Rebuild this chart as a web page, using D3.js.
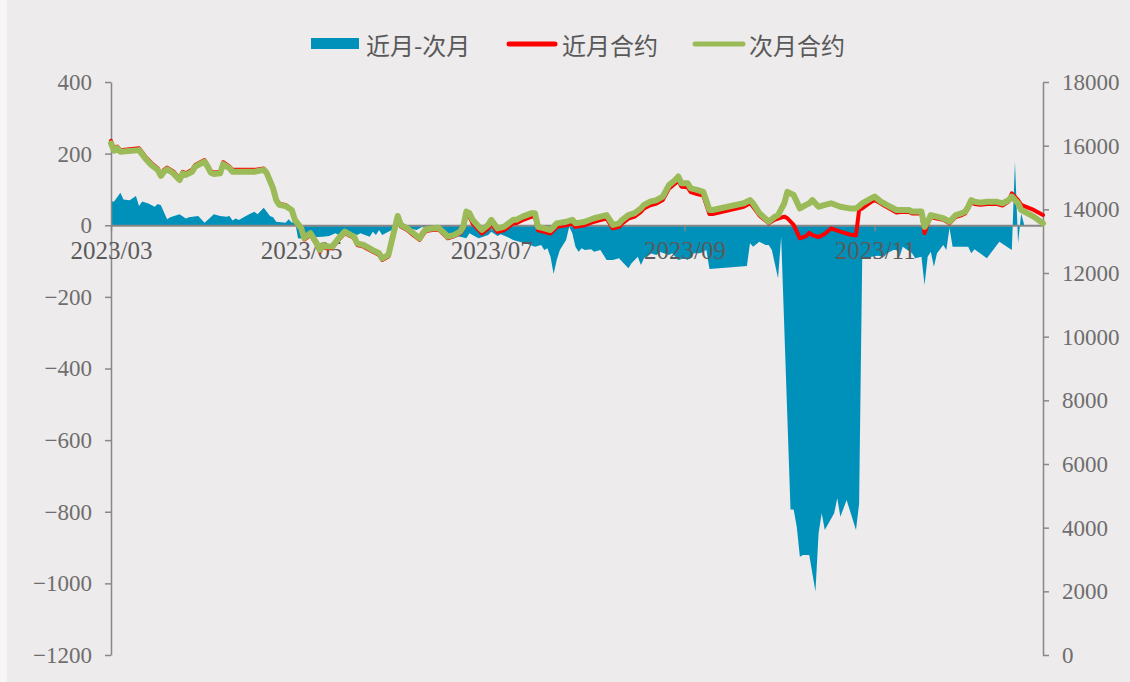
<!DOCTYPE html>
<html>
<head>
<meta charset="utf-8">
<script src="https://cdn.jsdelivr.net/npm/d3@7"></script>
<style>
  html, body { margin: 0; padding: 0; background: #f6f6f6; }
  svg { display: block; }
</style>
</head>
<body>
<svg id="chart" width="1130" height="682"></svg>
<script>
// ---- price series: 近月合约 / 次月合约 (right axis) ----
const lineDates = [
  "2023-03-01","2023-03-02","2023-03-03","2023-03-04","2023-03-10","2023-03-12","2023-03-14","2023-03-16","2023-03-17","2023-03-18","2023-03-19","2023-03-21","2023-03-23","2023-03-24","2023-03-25","2023-03-27","2023-03-28","2023-03-31",
  "2023-04-01","2023-04-02","2023-04-03","2023-04-05","2023-04-06","2023-04-08","2023-04-09","2023-04-12","2023-04-16","2023-04-19","2023-04-20","2023-04-22","2023-04-23","2023-04-24","2023-04-26","2023-04-28","2023-04-29",
  "2023-05-01","2023-05-02","2023-05-04","2023-05-06","2023-05-07","2023-05-08","2023-05-09","2023-05-11","2023-05-13","2023-05-15","2023-05-17","2023-05-18","2023-05-19","2023-05-21","2023-05-22","2023-05-24","2023-05-26","2023-05-27","2023-05-29","2023-05-30",
  "2023-06-01","2023-06-02","2023-06-04","2023-06-06","2023-06-08","2023-06-09","2023-06-10","2023-06-12","2023-06-14","2023-06-16","2023-06-17","2023-06-19","2023-06-21","2023-06-22","2023-06-23","2023-06-24","2023-06-25","2023-06-27","2023-06-28","2023-06-30",
  "2023-07-01","2023-07-03","2023-07-05","2023-07-08","2023-07-09","2023-07-11","2023-07-14","2023-07-15","2023-07-16","2023-07-18","2023-07-20","2023-07-21","2023-07-22","2023-07-25","2023-07-27","2023-07-28","2023-07-31",
  "2023-08-03","2023-08-05","2023-08-07","2023-08-08","2023-08-09","2023-08-11","2023-08-12","2023-08-14","2023-08-16","2023-08-18","2023-08-19","2023-08-21","2023-08-23","2023-08-25","2023-08-27","2023-08-29","2023-08-30","2023-08-31",
  "2023-09-02","2023-09-03","2023-09-05","2023-09-07","2023-09-09","2023-09-10","2023-09-20","2023-09-22","2023-09-23","2023-09-25","2023-09-28","2023-09-30",
  "2023-10-01","2023-10-03","2023-10-04","2023-10-06","2023-10-08","2023-10-10","2023-10-11","2023-10-12","2023-10-14","2023-10-16","2023-10-18","2023-10-21","2023-10-24","2023-10-26","2023-10-27","2023-10-28","2023-10-31",
  "2023-11-01","2023-11-03","2023-11-04","2023-11-06","2023-11-08","2023-11-10","2023-11-12","2023-11-13","2023-11-16","2023-11-17","2023-11-18","2023-11-19","2023-11-21","2023-11-23","2023-11-24","2023-11-25","2023-11-27","2023-11-29","2023-11-30",
  "2023-12-01","2023-12-02","2023-12-03","2023-12-05","2023-12-07","2023-12-10","2023-12-12","2023-12-14","2023-12-15","2023-12-17","2023-12-18","2023-12-22","2023-12-25"
];

const nearPrice = [
  16150,15910,15970,15860,15920,15660,15450,15290,15090,15240,15310,15190,14970,15180,15130,15240,15390,15550,
  15390,15200,15160,15170,15480,15340,15240,15240,15240,15280,15170,14700,14320,14170,14140,13980,13630,
  13370,13050,13200,12880,12660,12830,12780,12780,13040,13250,13150,13090,12880,12830,12770,12670,12570,12410,12520,12940,
  13760,13460,13350,13190,13040,13190,13320,13350,13370,13190,13090,13150,13240,13380,13840,13770,13560,13350,13240,13400,
  13560,13290,13340,13560,13560,13660,13770,13770,13340,13290,13240,13340,13450,13500,13560,13450,13500,
  13610,13660,13710,13560,13400,13450,13560,13710,13770,13920,14030,14130,14180,14290,14650,14810,14920,14710,
  14690,14540,14480,14430,13850,13850,14080,14190,14080,13810,13560,13680,
  13710,13770,13720,13510,13090,13160,13260,13190,13130,13230,13400,13300,13210,13180,13980,14030,14240,
  14290,14180,14120,14010,13900,13920,13920,13870,13870,13250,13540,13760,13710,13670,13620,13560,13760,13820,13870,
  14030,14220,14170,14140,14170,14170,14120,14250,14500,14290,14140,13980,13820
];

const nextPrice = [
  16070,15840,15920,15810,15860,15600,15390,15240,15050,15180,15260,15130,14920,15130,15080,15180,15340,15500,
  15340,15150,15110,15130,15420,15290,15180,15180,15180,15240,15130,14660,14290,14140,14100,13980,13670,
  13410,13100,13250,12930,12720,12880,12830,12830,13090,13300,13190,13140,12930,12880,12830,12720,12620,12460,12570,12980,
  13790,13510,13400,13250,13090,13250,13370,13400,13420,13250,13140,13190,13300,13450,13930,13880,13670,13450,13350,13510,
  13670,13400,13450,13670,13670,13770,13880,13880,13450,13400,13350,13450,13560,13610,13670,13560,13610,
  13720,13770,13820,13670,13510,13560,13670,13820,13880,14030,14140,14240,14290,14400,14760,14920,15030,14820,
  14820,14660,14610,14550,13980,13980,14190,14290,14190,13880,13610,13770,
  13820,14190,14550,14450,14030,14140,14190,14290,14080,14140,14190,14080,14030,14030,14100,14190,14350,
  14400,14240,14190,14080,13980,13980,13980,13930,13930,13450,13610,13820,13770,13720,13670,13610,13820,13880,13930,
  14080,14290,14240,14210,14240,14240,14190,14290,14400,14190,13980,13770,13560
];

// ---- spread series: 近月-次月 (left axis) ----
const spreadDates = [
  "2023-03-01","2023-03-02","2023-03-04","2023-03-05","2023-03-07","2023-03-09","2023-03-10","2023-03-11","2023-03-13","2023-03-15","2023-03-16","2023-03-17","2023-03-19","2023-03-20","2023-03-23","2023-03-25","2023-03-26","2023-03-29","2023-03-31",
  "2023-04-01","2023-04-03","2023-04-05","2023-04-07","2023-04-08","2023-04-09","2023-04-10","2023-04-11","2023-04-14","2023-04-16","2023-04-17","2023-04-19","2023-04-21","2023-04-22","2023-04-23","2023-04-26","2023-04-27","2023-04-28","2023-04-29","2023-04-30",
  "2023-05-02","2023-05-04","2023-05-06","2023-05-08","2023-05-10","2023-05-12","2023-05-13","2023-05-15","2023-05-17","2023-05-19","2023-05-20","2023-05-23","2023-05-24","2023-05-25","2023-05-26","2023-05-27","2023-05-29",
  "2023-06-01","2023-06-03","2023-06-05","2023-06-07","2023-06-09","2023-06-10","2023-06-12","2023-06-15","2023-06-17","2023-06-19","2023-06-21","2023-06-23","2023-06-24","2023-06-26","2023-06-27","2023-06-30",
  "2023-07-01","2023-07-03","2023-07-04","2023-07-06","2023-07-08","2023-07-10","2023-07-12","2023-07-15","2023-07-17","2023-07-18","2023-07-19","2023-07-20","2023-07-21","2023-07-22","2023-07-23","2023-07-25","2023-07-26","2023-07-27","2023-07-28","2023-07-29","2023-07-30","2023-07-31",
  "2023-08-02","2023-08-03","2023-08-05","2023-08-07","2023-08-09","2023-08-11","2023-08-12","2023-08-14","2023-08-15","2023-08-17","2023-08-18","2023-08-19","2023-08-21","2023-08-23","2023-08-24","2023-08-27","2023-08-28","2023-08-30",
  "2023-09-01","2023-09-02","2023-09-04","2023-09-06","2023-09-08","2023-09-09","2023-09-21","2023-09-22","2023-09-23","2023-09-25","2023-09-27","2023-09-28","2023-09-29",
  "2023-10-01","2023-10-02","2023-10-05","2023-10-06","2023-10-07","2023-10-08","2023-10-09","2023-10-10","2023-10-11","2023-10-13","2023-10-14","2023-10-15","2023-10-16","2023-10-19","2023-10-20","2023-10-21","2023-10-23","2023-10-26","2023-10-27","2023-10-28","2023-10-31",
  "2023-11-02","2023-11-04","2023-11-05","2023-11-07","2023-11-08","2023-11-09","2023-11-10","2023-11-13","2023-11-14","2023-11-16","2023-11-17","2023-11-18","2023-11-19","2023-11-20","2023-11-21","2023-11-23","2023-11-24","2023-11-25","2023-11-26",
  "2023-12-01","2023-12-02","2023-12-03","2023-12-07","2023-12-11","2023-12-15","2023-12-16","2023-12-17","2023-12-18","2023-12-19"
];

const spreadValues = [
  66,66,91,72,70,82,54,66,61,52,59,56,17,22,31,19,22,26,7,
  15,31,26,24,26,13,19,15,29,38,31,49,26,22,10,7,17,7,12,-36,
  -38,-30,-33,-32,-30,-22,-27,-18,-22,-27,-22,-32,-18,-27,-13,-27,-18,
  -4,-9,-9,-13,-4,-13,-18,-13,-22,-27,-32,-36,-22,-32,-36,-27,
  -18,-30,-25,-32,-41,-46,-50,-60,-55,-69,-64,-88,-136,-97,-69,-41,-4,-22,-60,-74,-64,-69,
  -67,-74,-69,-97,-97,-92,-102,-120,-106,-88,-111,-92,-78,-83,-74,-83,-78,-97,
  -92,-97,-78,-78,-69,-122,-114,-50,-60,-46,-55,-55,-69,
  -148,-32,-794,-794,-842,-926,-921,-921,-921,-1023,-860,-804,-851,-804,-762,-814,-767,-851,-778,-92,-88,
  -85,-88,-78,-69,-69,-88,-60,-78,-92,-88,-167,-88,-74,-116,-78,-55,-69,-8,-60,
  -60,-78,-67,-92,-46,-69,177,-50,33,0
];

// ---- axes and legend labels ----
const leftTicks = [400, 200, 0, -200, -400, -600, -800, -1000, -1200];
const rightTicks = [0, 2000, 4000, 6000, 8000, 10000, 12000, 14000, 16000, 18000];
const seriesNames = ["近月-次月", "近月合约", "次月合约"];
const xDomain = ["2023-03-01", "2023-12-25"];

const colors = { spread: "#0091ba", near: "#ff0000", next: "#9bbb59" };
const axisColor = "#888888";

const parse = d3.timeParse("%Y-%m-%d");
const plot = { left: 111, right: 1043, top: 82, bottom: 655 };

const svg = d3.select("#chart");

// panel background
svg.append("rect")
  .attr("x", 7).attr("y", 0).attr("width", 1123).attr("height", 682)
  .attr("fill", "#edebec");

const x = d3.scaleTime()
  .domain(xDomain.map(parse))
  .range([plot.left, plot.right]);
const yL = d3.scaleLinear().domain([-1200, 400]).range([plot.bottom, plot.top]);
const yR = d3.scaleLinear().domain([0, 18000]).range([plot.bottom, plot.top]);

const spread = spreadDates.map((d, i) => ({ date: parse(d), v: spreadValues[i] }));
const near = lineDates.map((d, i) => ({ date: parse(d), v: nearPrice[i] }));
const next = lineDates.map((d, i) => ({ date: parse(d), v: nextPrice[i] }));

// spread area against the zero line
svg.append("path")
  .datum(spread)
  .attr("fill", colors.spread)
  .attr("d", d3.area()
    .x(d => x(d.date))
    .y0(yL(0))
    .y1(d => yL(d.v)));

const tickFont = "'Liberation Serif', 'DejaVu Serif', serif";

// left axis
const leftAxis = svg.append("g")
  .attr("transform", `translate(${plot.left},0)`)
  .call(d3.axisLeft(yL).tickValues(leftTicks).tickSize(6).tickSizeOuter(0).tickPadding(13)
    .tickFormat(d3.format("d")));
// right axis
const rightAxis = svg.append("g")
  .attr("transform", `translate(${plot.right},0)`)
  .call(d3.axisRight(yR).tickValues(rightTicks).tickSize(6).tickSizeOuter(0).tickPadding(13)
    .tickFormat(d3.format("d")));

[leftAxis, rightAxis].forEach(g => {
  g.select(".domain").attr("stroke", axisColor).attr("stroke-width", 1.5);
  g.selectAll(".tick line").attr("stroke", axisColor).attr("stroke-width", 1.5);
  g.selectAll(".tick text")
    .attr("fill", "#6e6e6e")
    .style("font-family", tickFont)
    .style("font-size", "23px");
});

// category axis on the zero line
const xAxis = svg.append("g")
  .attr("transform", `translate(0,${yL(0)})`)
  .call(d3.axisBottom(x).ticks(d3.timeMonth.every(2)).tickSize(6).tickSizeOuter(0).tickPadding(10)
    .tickFormat(d3.timeFormat("%Y/%m")));
xAxis.select(".domain").attr("stroke", axisColor).attr("stroke-width", 2);
xAxis.selectAll(".tick line").attr("stroke", axisColor).attr("stroke-width", 1.5);
xAxis.selectAll(".tick text")
  .attr("fill", "#5a5a5a")
  .style("font-family", tickFont)
  .style("font-size", "25px");

// price lines
const priceLine = d3.line().x(d => x(d.date)).y(d => yR(d.v));
svg.append("path")
  .datum(near)
  .attr("fill", "none")
  .attr("stroke", colors.near)
  .attr("stroke-width", 4)
  .attr("stroke-linejoin", "round")
  .attr("stroke-linecap", "round")
  .attr("d", priceLine);
svg.append("path")
  .datum(next)
  .attr("fill", "none")
  .attr("stroke", colors.next)
  .attr("stroke-width", 6)
  .attr("stroke-linejoin", "round")
  .attr("stroke-linecap", "round")
  .attr("d", priceLine);

// legend
const legend = svg.append("g").attr("transform", "translate(0,44)");
const legendFont = "'Noto Sans CJK SC', 'Noto Sans', sans-serif";
legend.append("rect")
  .attr("x", 311).attr("y", -6).attr("width", 48).attr("height", 11)
  .attr("fill", colors.spread);
legend.append("line")
  .attr("x1", 509).attr("x2", 555).attr("y1", 0).attr("y2", 0)
  .attr("stroke", colors.near).attr("stroke-width", 5).attr("stroke-linecap", "round");
legend.append("line")
  .attr("x1", 695).attr("x2", 743).attr("y1", 0).attr("y2", 0)
  .attr("stroke", colors.next).attr("stroke-width", 5).attr("stroke-linecap", "round");
[[366, seriesNames[0]], [562, seriesNames[1]], [749, seriesNames[2]]].forEach(([lx, name]) => {
  legend.append("text")
    .attr("x", lx).attr("y", 0)
    .attr("dominant-baseline", "central")
    .attr("fill", "#595959")
    .style("font-family", legendFont)
    .style("font-size", "24px")
    .text(name);
});
</script>
</body>
</html>
